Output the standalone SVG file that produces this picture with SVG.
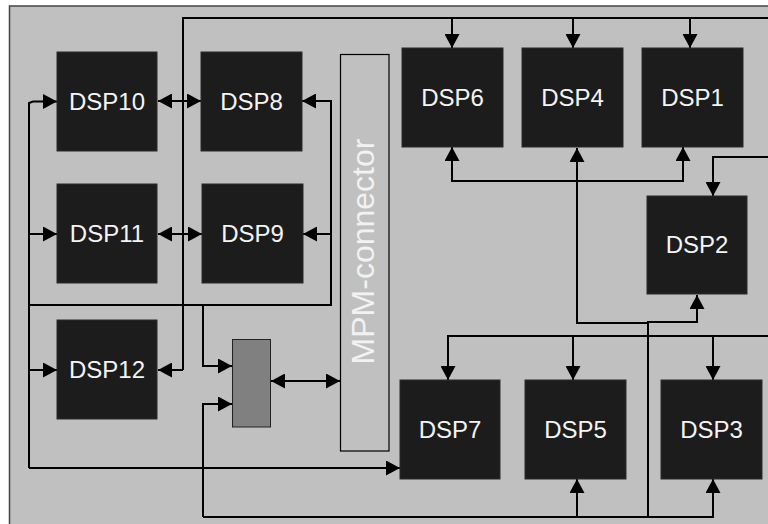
<svg xmlns="http://www.w3.org/2000/svg" width="768" height="524" viewBox="0 0 768 524">
<defs>
<marker id="ah" markerUnits="userSpaceOnUse" markerWidth="15" markerHeight="15" refX="14" refY="7.5" orient="auto-start-reverse" viewBox="0 0 15 15">
<path d="M0,0 L14,7.5 L0,15 Z" fill="#000"/>
</marker>
</defs>
<style>
.dsp{fill:#1c1c1c;stroke:#2a2a2a;stroke-width:1}
.lbl{font-family:"Liberation Sans",Arial,sans-serif;font-size:24px;fill:#f4f4f4;text-anchor:middle}
.c{fill:none;stroke:#000;stroke-width:2}
.a{marker-end:url(#ah)}
.b{marker-start:url(#ah);marker-end:url(#ah)}
</style>
<rect x="0" y="0" width="768" height="524" fill="#fff"/>
<rect id="board" x="9.5" y="6" width="770" height="530" fill="#c0c0c0" stroke="#444" stroke-width="1.5"/>

<g id="connectors">
<path class="c" d="M183,370 V18 H770"/>
<path class="c a" d="M183,370 H158"/>
<path class="c a" d="M452,18 V48"/>
<path class="c a" d="M573,18 V48"/>
<path class="c a" d="M690,18 V48"/>
<path class="c b" d="M452,147 V181 H683 V147"/>
<path class="c a" d="M648,323 H577 V148"/>
<path class="c a" d="M648,517 V322 H697 V295"/>
<path class="c a" d="M770,157 H713 V196"/>
<path class="c a" d="M770,336 H448 V380"/>
<path class="c a" d="M573,336 V380"/>
<path class="c a" d="M713,336 V380"/>
<path class="c a" d="M203,517 V404 H232"/>
<path class="c a" d="M203,517 H713 V479"/>
<path class="c a" d="M577,517 V479"/>
<path class="c a" d="M29,468 H400"/>
<path class="c a" d="M29,468 V103 L33,101.5 H57"/>
<path class="c a" d="M29,234 H57"/>
<path class="c a" d="M29,370 H57"/>
<path class="c a" d="M29,305 H331 V101 H302"/>
<path class="c a" d="M331,234 H303"/>
<path class="c a" d="M203,305 V366 H232"/>
<path class="c b" d="M158,101 H201"/>
<path class="c b" d="M158,234 H202"/>
<path class="c b" d="M271,381 H340"/>
</g>

<g id="mpm">
<rect x="340.5" y="54.5" width="48.5" height="396.5" fill="#c0c0c0" stroke="#000" stroke-width="1.2"/>
<text transform="translate(374,251.5) rotate(-90)" style="font-family:'Liberation Sans',Arial,sans-serif;font-size:32px;fill:#f2f2f2;text-anchor:middle">MPM-connector</text>
</g>

<g id="mux"><rect x="232.5" y="339.5" width="38" height="87.5" fill="#808080" stroke="#222" stroke-width="1"/></g>

<g id="dsp10"><rect class="dsp" x="57" y="52" width="100" height="99"/><text class="lbl" x="107" y="109.5">DSP10</text></g>
<g id="dsp8"><rect class="dsp" x="201" y="52" width="101" height="99"/><text class="lbl" x="251.5" y="109.5">DSP8</text></g>
<g id="dsp11"><rect class="dsp" x="57" y="184" width="100" height="99"/><text class="lbl" x="107" y="241.5">DSP11</text></g>
<g id="dsp9"><rect class="dsp" x="202" y="184" width="101" height="99"/><text class="lbl" x="252.5" y="241.5">DSP9</text></g>
<g id="dsp12"><rect class="dsp" x="57" y="320" width="100" height="99"/><text class="lbl" x="107" y="377.5">DSP12</text></g>
<g id="dsp6"><rect class="dsp" x="402" y="48" width="101" height="99"/><text class="lbl" x="452.5" y="106">DSP6</text></g>
<g id="dsp4"><rect class="dsp" x="522" y="48" width="101" height="99"/><text class="lbl" x="572.5" y="106">DSP4</text></g>
<g id="dsp1"><rect class="dsp" x="642" y="48" width="101" height="99"/><text class="lbl" x="692.5" y="106">DSP1</text></g>
<g id="dsp2"><rect class="dsp" x="647" y="196" width="100" height="98"/><text class="lbl" x="697" y="253">DSP2</text></g>
<g id="dsp7"><rect class="dsp" x="400" y="380" width="100" height="99"/><text class="lbl" x="450" y="438">DSP7</text></g>
<g id="dsp5"><rect class="dsp" x="525" y="380" width="101" height="99"/><text class="lbl" x="575.5" y="438">DSP5</text></g>
<g id="dsp3"><rect class="dsp" x="661" y="380" width="101" height="99"/><text class="lbl" x="711.5" y="438">DSP3</text></g>
</svg>
